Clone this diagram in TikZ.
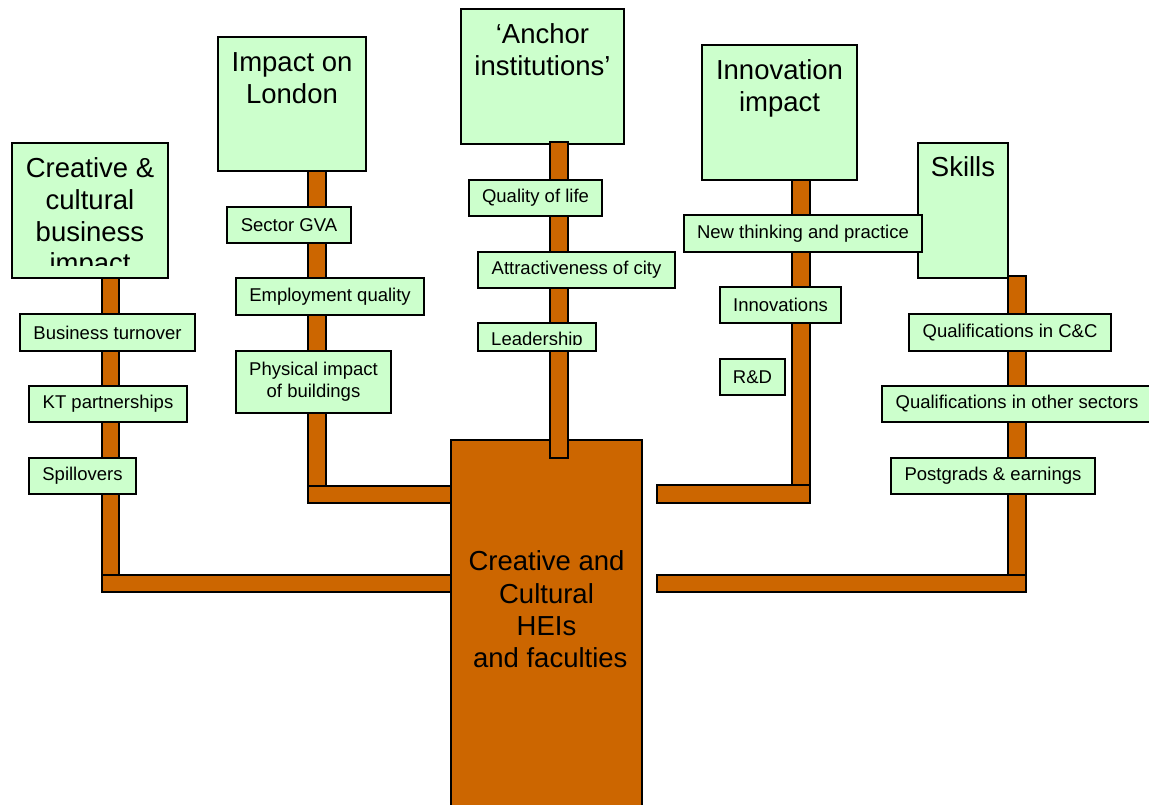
\documentclass[tikz,border=0pt]{standalone}
\usepackage{fontspec}
\setmainfont{Liberation Sans}
\usetikzlibrary{calc}
\definecolor{brn}{HTML}{CC6600}
\definecolor{grn}{HTML}{CCFFCC}
\tikzset{
  bar/.style={fill=brn,draw=black,line width=1.6pt},
  hubbox/.style={fill=brn,draw=black,line width=1.2pt,inner sep=0,outer sep=0},
  sbox/.style={draw=black,fill=grn,line width=1.8pt,inner sep=0,outer sep=0,
    align=center,font=\fontsize{18.5}{22}\selectfont},
  bbox/.style={draw=black,fill=grn,line width=1.8pt,inner sep=0,outer sep=0},
  btext/.style={inner sep=0,outer sep=0,anchor=north,align=center,
    font=\fontsize{27.5}{31.6}\selectfont},
  hubtext/.style={inner sep=0,outer sep=0,anchor=north,align=center,
    font=\fontsize{27.5}{32.3}\selectfont}
}
\begin{document}
\begin{tikzpicture}[x=1pt,y=-1pt]
\useasboundingbox (0,0) rectangle (1149,805);
% ---- bars (branches) ----
\draw[bar] (102,276) rectangle (119,590);
\draw[bar] (102,575) rectangle (451,592);
\draw[bar] (308,170) rectangle (326,500);
\draw[bar] (308,486) rectangle (451,503);
\draw[bar] (792,178) rectangle (810,500);
\draw[bar] (657,485) rectangle (810,503);
\draw[bar] (1008,276) rectangle (1026,590);
\draw[bar] (657,575) rectangle (1026,592);
% ---- big category boxes ----
\node[bbox,minimum width=156,minimum height=135] (cc) at (90,210.5) {};
\begin{scope}
  \clip (12,143) rectangle (168,266);
  \node[btext] (ccT) at ($(cc.north)+(0,15)$) {Creative \&\\cultural\\business\\impact};
\end{scope}
\node[bbox,minimum width=148,minimum height=134] (il) at (292,104) {};
\node[btext] (ilT) at ($(il.north)+(0,15.5)$) {Impact on\\London};
\node[bbox,minimum width=163,minimum height=135] (ai) at (542.5,76.5) {};
\node[btext] (aiT) at ($(ai.north)+(0,15)$) {`Anchor\\institutions'};
\node[bbox,minimum width=155,minimum height=135] (ii) at (779.5,112.5) {};
\node[btext] (iiT) at ($(ii.north)+(0,14.5)$) {Innovation\\impact};
\node[bbox,minimum width=90,minimum height=135] (sk) at (963,210.5) {};
\node[btext] (skT) at ($(sk.north)+(0,14)$) {Skills};
% ---- hub ----
\node[hubbox,minimum width=191,minimum height=368] (hub) at (546.5,624) {};
\node[hubtext] (hubT) at ($(hub.north)+(0,111)$) {Creative and\\Cultural\\HEIs\\\hspace*{7.6pt}and faculties};
\draw[bar] (550,142) rectangle (568,458);
% ---- small item boxes ----
\node[sbox,minimum width=175,minimum height=37] (bt) at (107.5,332.5) {Business turnover};
\node[sbox,minimum width=158,minimum height=36] (kt) at (108,404) {KT partnerships};
\node[sbox,minimum width=107,minimum height=36] (sp) at (82.5,476) {Spillovers};
\node[sbox,minimum width=124,minimum height=36] (gva) at (289,225) {Sector GVA};
\node[sbox,minimum width=188,minimum height=37] (emp) at (330,296.5) {Employment quality};
\node[sbox,minimum width=155,minimum height=62] (phys) at (313.5,382) {Physical impact\\of buildings};
\node[sbox,minimum width=133,minimum height=36] (qol) at (535.5,198) {Quality of life};
\node[sbox,minimum width=197,minimum height=36] (attr) at (576.5,270) {Attractiveness of city};
\node[sbox,minimum width=118,minimum height=28] (lead) at (537,337) {};
\begin{scope}
  \clip (478,323) rectangle (596,344);
  \node[sbox,draw=none,fill=none] (leadT) at (537,341) {Leadership};
\end{scope}
\node[sbox,minimum width=238,minimum height=37] (ntp) at (803,233.5) {New thinking and practice};
\node[sbox,minimum width=121,minimum height=36] (inn) at (780.5,305) {Innovations};
\node[sbox,minimum width=65,minimum height=36] (rd) at (752.5,377) {R\&D};
\node[sbox,minimum width=202,minimum height=37] (qcc) at (1010,332.5) {Qualifications in C\&C};
\node[sbox,minimum width=270,minimum height=36] (qos) at (1017,404) {Qualifications in other sectors};
\node[sbox,minimum width=204,minimum height=36] (pg) at (993,476) {Postgrads \& earnings};
\end{tikzpicture}
\end{document}
